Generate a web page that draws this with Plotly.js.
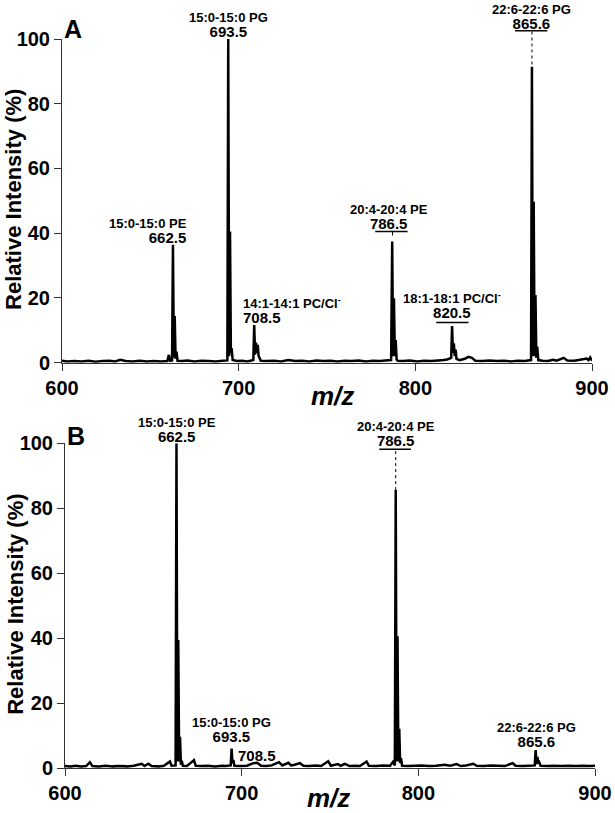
<!DOCTYPE html>
<html>
<head>
<meta charset="utf-8">
<script src="https://cdn.plot.ly/plotly-3.0.1.min.js"></script>
<style>
  html, body { margin: 0; padding: 0; background: #fff; }
  #chart { width: 615px; height: 813px; }
</style>
</head>
<body>
<div id="chart"></div>
<script>
// ---- Panel A spectrum (m/z, relative intensity %) ----
const mzA = [600,603,607,611,615,619,623,627,630,633,636,640,644,648,652,656,659.6,660.5,661.2,662.3,662.8,663.3,663.8,664.3,664.8,665.4,668,671,675,679,683,687,691,693.6,694.1,694.6,695.1,695.6,696.0,696.6,699,702,705,708.3,708.8,709.3,709.8,710.3,710.8,711.3,711.8,712.5,716,720,724,728,732,736,740,744,748,752,756,760,764,768,772,776,780,783,786.3,786.9,787.4,787.9,788.4,788.9,789.4,790,793,797,801,805,809,813,816,818,820.3,820.8,821.3,821.8,822.3,822.8,823.3,825,828,830,832,834,838,842,846,850,854,858,862,865.5,866.0,866.5,867.0,867.5,868.0,868.5,869.0,869.6,872,875,878,880,884,886,890,894,897,898,899,900];
const intA = [0.6,0.4,0.5,0.4,0.6,0.3,0.5,0.6,0.4,0.9,0.5,0.4,0.6,0.4,0.5,0.4,0.5,2.4,0.6,0.7,36.4,1.5,14.4,1.2,3.4,0.6,0.5,0.7,0.4,0.6,0.5,0.4,0.6,0.7,100,2,40.5,3,4.5,0.8,0.5,0.6,0.4,0.8,11.6,2.5,6.2,3,5.5,2,1.5,0.6,0.5,0.6,0.4,0.8,0.5,0.6,0.4,0.7,0.5,0.6,0.4,0.6,0.5,0.7,0.4,0.6,0.5,0.7,0.8,37.4,2,19.9,2,7,1,0.6,0.5,0.7,0.4,0.6,0.5,0.7,0.8,1.0,1.5,11.3,3,6,2,4,1.2,0.8,1.2,1.8,1.5,0.6,0.5,0.7,0.5,0.6,0.4,0.6,0.5,0.8,91.4,2,49.7,2,20.9,1.5,5,0.8,0.6,0.5,0.9,0.6,1.5,0.7,0.6,1.0,1.3,0.8,1.6,0.6];

// ---- Panel B spectrum ----
const mzB = [600,603,606,609,612,614.1,615.5,619,623,627,631,635,639,643.4,645,647.2,649,653,656,659.4,660.3,662.6,663.1,663.6,664.1,664.6,665.1,665.6,666.1,666.7,669,673,674,677,681,685,689,691,693.8,694.3,694.8,695.3,695.9,699,703,706.6,708.8,711,714,717,721.1,723,726.4,728,730,733,735,738,742,745,749,750.5,754.5,756,758.5,761,764,767,770.7,772,776,780,784,785.7,786.7,787.2,787.7,788.2,788.7,789.2,789.7,790.2,790.8,794,798,802,806,810,815,818,821.7,824,827,831.1,833,837,841,845,849,853.4,855,859,863,865.9,866.4,866.9,867.4,867.9,868.4,869.2,873,877,881,885,889,893,897,900];
const intB = [0.6,0.5,0.7,0.5,0.6,1.8,0.6,0.5,0.7,0.5,0.6,0.5,0.7,1.3,0.6,1.3,0.6,0.5,0.7,2.0,0.7,0.8,100,2,39.4,2,9.6,1,2.2,0.7,0.6,2.4,0.7,0.6,0.7,0.5,0.7,0.6,0.8,6,1.5,2.5,0.7,0.6,0.7,1.5,1.6,0.7,0.6,0.8,1.8,0.8,1.6,0.8,1.0,1.5,0.7,0.6,0.8,0.6,2.1,0.7,1.2,0.7,1.3,0.6,0.7,0.6,2.0,0.7,0.6,0.8,0.7,1.9,0.8,85.6,2,40.6,2,12.1,1.5,3,0.7,0.6,0.7,0.8,0.6,0.7,1.0,0.7,1.2,0.6,0.8,1.3,0.7,0.6,0.8,0.7,0.6,1.5,0.7,0.6,0.7,0.8,5.5,1.2,3.4,1.5,1.8,0.7,0.6,0.7,0.6,0.7,0.6,0.7,0.6,0.7];

// ---- Axis ticks ----
const xTicks = [600, 700, 800, 900];
const yTicks = [0, 20, 40, 60, 80, 100];

const FONT = 'Liberation Sans, Arial, Helvetica, sans-serif';

const traces = [
  {x: mzA, y: intA, type: 'scatter', mode: 'lines', xaxis: 'x', yaxis: 'y',
   line: {color: '#000', width: 2.5, simplify: false}, hoverinfo: 'skip'},
  {x: mzB, y: intB, type: 'scatter', mode: 'lines', xaxis: 'x2', yaxis: 'y2',
   line: {color: '#000', width: 2.5, simplify: false}, hoverinfo: 'skip'}
];

function xAxis(domain, anchor) {
  return {
    domain: domain, anchor: anchor, range: [600, 900],
    tickvals: xTicks, ticks: 'outside', ticklen: 7, tickwidth: 1, tickcolor: '#333',
    showline: true, linecolor: '#333', linewidth: 1,
    showgrid: false, zeroline: false,
    tickfont: {family: FONT, size: 20, weight: 'bold', color: '#000'}
  };
}
function yAxis(domain, anchor) {
  return {
    domain: domain, anchor: anchor, range: [0, 100],
    tickvals: yTicks, ticks: 'outside', ticklen: 7, tickwidth: 1, tickcolor: '#333',
    showline: true, linecolor: '#333', linewidth: 1,
    showgrid: false, zeroline: false,
    tickfont: {family: FONT, size: 20, weight: 'bold', color: '#000'}
  };
}

function lab(x, y, text, size, anchor) {
  return {xref: 'paper', yref: 'paper', x: x, y: y, text: text, showarrow: false,
    xanchor: anchor || 'center', yanchor: 'middle', align: anchor || 'center',
    font: {family: FONT, size: size, weight: 'bold', color: '#000'}};
}
// two-line peak label: compound name (small) over m/z value (larger)
function peak(x, y, name, mz, anchor) {
  return lab(x, y,
    '<span style="font-size:13px">' + name + '</span><br>' +
    '<span style="font-size:15px">' + mz + '</span>', 11.3, anchor);
}

const annotations = [
  // panel letters
  lab(0.0197, 1.0137, 'A', 25),
  lab(0.0263, 0.4554, 'B', 25),
  // axis titles
  lab(0.5084, 0.5103, '<i>m/z</i>', 26),
  lab(0.4996, -0.0405, '<i>m/z</i>', 26),
  Object.assign(lab(-0.0921, 0.7805, 'Relative Intensity (%)', 22), {textangle: -90}),
  Object.assign(lab(-0.0867, 0.225, 'Relative Intensity (%)', 22), {textangle: -90}),
  // panel A peak labels
  peak(0.3128, 1.0197, '15:0-15:0 PG', '693.5'),
  peak(0.8812, 1.0307, '22:6-22:6 PG', '865.6'),
  peak(0.2388, 0.7368, '15:0-15:0 PE', '662.5', 'right'),
  peak(0.3353, 0.6272, '14:1-14:1 PC/Cl<sup>-</sup>', '708.5', 'left'),
  peak(0.6139, 0.7563, '20:4-20:4 PE', '786.5'),
  peak(0.7313, 0.6344, '18:1-18:1 PC/Cl<sup>-</sup>', '820.5'),
  // panel B peak labels
  peak(0.2152, 0.4634, '15:0-15:0 PE', '662.5'),
  peak(0.6261, 0.4579, '20:4-20:4 PE', '786.5'),
  peak(0.3171, 0.0517, '15:0-15:0 PG', '693.5'),
  lab(0.3659, 0.0178, '708.5', 15),
  peak(0.8902, 0.0457, '22:6-22:6 PG', '865.6')
];

const solid = {color: '#000', width: 1.5};
const dashed = {color: '#000', width: 1, dash: '3px,3px'};
const shapes = [
  // A: 865.6 underline + dashed drop line
  {type: 'line', xref: 'paper', yref: 'paper', x0: 0.8499, x1: 0.9105, y0: 1.0114, y1: 1.0114, line: solid},
  {type: 'line', xref: 'x', yref: 'paper', x0: 866.0, x1: 866.0, y0: 1.0103, y1: 0.9619, line: dashed},
  // A: 786.5 underline + tick
  {type: 'line', xref: 'x', yref: 'y', x0: 777.3, x1: 795.6, y0: 40.5, y1: 40.5, line: solid},
  {type: 'line', xref: 'x', yref: 'y', x0: 787.1, x1: 787.1, y0: 40.5, y1: 39.3, line: {color: '#000', width: 1}},
  // A: 820.5 underline
  {type: 'line', xref: 'x', yref: 'y', x0: 811.8, x1: 830.1, y0: 12.4, y1: 12.4, line: solid},
  // B: 786.5 underline + dashed drop line
  {type: 'line', xref: 'x2', yref: 'y2', x0: 777.9, x1: 795.8, y0: 98.2, y1: 98.2, line: solid},
  {type: 'line', xref: 'x2', yref: 'y2', x0: 787.2, x1: 787.2, y0: 97.6, y1: 85.6, line: dashed}
];

const layout = {
  width: 615, height: 813,
  margin: {l: 62, r: 20, t: 39, b: 45},
  paper_bgcolor: '#fff', plot_bgcolor: '#fff',
  showlegend: false,
  font: {family: FONT, color: '#000'},
  xaxis: xAxis([0, 0.99437], 'y'),
  yaxis: yAxis([0.556, 1], 'x'),
  xaxis2: xAxis([0.00563, 1], 'y2'),
  yaxis2: yAxis([0, 0.4454], 'x2'),
  annotations: annotations,
  shapes: shapes
};

Plotly.newPlot('chart', traces, layout, {displayModeBar: false, staticPlot: true});
</script>
</body>
</html>
